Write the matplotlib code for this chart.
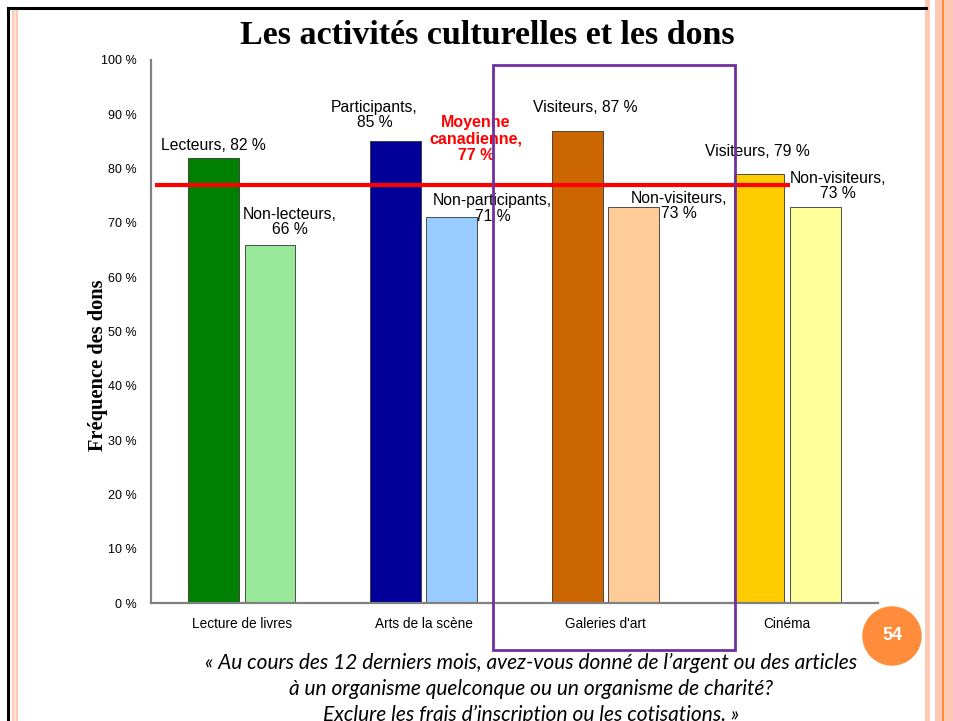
import matplotlib
matplotlib.use("Agg")
import matplotlib.pyplot as plt
from matplotlib.patches import Rectangle, Ellipse
from matplotlib.lines import Line2D
from matplotlib.ticker import FuncFormatter
import numpy as np

# data
categories = ["Lecture de livres", "Arts de la scène", "Galeries d'art", "Cinéma"]
participants = [82, 85, 87, 79]
non_participants = [66, 71, 73, 73]
part_labels = ["Lecteurs, 82 %", "Participants,\n85 %", "Visiteurs, 87 %", "Visiteurs, 79 %"]
nonpart_labels = ["Non-lecteurs,\n66 %", "Non-participants,\n71 %",
                  "Non-visiteurs,\n73 %", "Non-visiteurs,\n73 %"]
moyenne = 77
part_colors = ["#008000", "#000099", "#CC6600", "#FFCC00"]
nonpart_colors = ["#99E899", "#99CCFF", "#FFCC99", "#FFFF99"]

# label placement (data units)
part_lab_pos = [(-0.155, 84.3), (0.73, 89.9), (1.89, 91.3), (2.835, 83.2)]
nonpart_lab_pos = [(0.265, 70.2), (1.38, 72.6), (2.405, 73.1), (3.28, 76.8)]

W, H = 954, 721
fig = plt.figure(figsize=(W / 100, H / 100), dpi=100)


def fx(px):
    return px / W


def fy(py):
    return 1 - py / H


# ---- slide decorations ----
fig.add_artist(Line2D([fx(8), fx(8)], [fy(8), 0], color="black", lw=2.2))
fig.add_artist(Line2D([fx(8), fx(926)], [fy(8), fy(8)], color="black", lw=2.2))
fig.add_artist(Rectangle((fx(12), 0), fx(6), fy(10), color="#FDC9B4", lw=0))
fig.add_artist(Rectangle((fx(14), 0), fx(2), fy(10), color="#FDE3D8", lw=0))
fig.add_artist(Rectangle((fx(925), 0), fx(5), 1, color="#FDC9B4", lw=0))
fig.add_artist(Rectangle((fx(935), 0), fx(19), 1, color="#FDC9B4", lw=0))
fig.add_artist(Rectangle((fx(942), 0), fx(2), 1, color="#FF8C3A", lw=0))

fig.text(fx(487), fy(36), "Les activités culturelles et les dons",
         family="Liberation Serif", weight="bold", fontsize=24.5,
         ha="center", va="center")

# ---- chart ----
ax = fig.add_axes([fx(151), fy(603), fx(878 - 151), (603 - 60) / H])
x = np.arange(len(categories))
bw = 0.28
off = 0.155
ax.bar(x - off, participants, bw, color=part_colors, edgecolor="#333333", linewidth=0.6, zorder=2)
ax.bar(x + off, non_participants, bw, color=nonpart_colors, edgecolor="#333333", linewidth=0.6, zorder=2)

ax.set_xlim(-0.5, len(categories) - 0.5)
ax.set_ylim(0, 100)
ax.set_yticks(np.arange(0, 101, 10))
ax.yaxis.set_major_formatter(FuncFormatter(lambda v, p: f"{v:.0f} %"))
ax.set_xticks(x)
ax.set_xticklabels(categories)
ax.tick_params(length=0, labelsize=9, labelfontfamily="Liberation Sans")
ax.tick_params(axis="x", pad=10, labelsize=9.8)
ax.tick_params(axis="y", pad=10)
for s in ["top", "right"]:
    ax.spines[s].set_visible(False)
for s in ["left", "bottom"]:
    ax.spines[s].set_color("#808080")
    ax.spines[s].set_linewidth(1.6)
ax.set_ylabel("Fréquence des dons", family="Liberation Serif", weight="bold",
              fontsize=14.7)
ax.yaxis.set_label_coords(-0.059, 0.437)

ax.hlines(moyenne, -0.478, 3.016, color="#FF0000", lw=3, zorder=4)
ax.text(1.288, 85.4, f"Moyenne\ncanadienne,\n{moyenne} %", color="#FF0000",
        weight="bold", family="Liberation Sans", fontsize=11.5,
        ha="center", va="center", linespacing=1.12, zorder=5)

for (tx, ty), lab in zip(part_lab_pos, part_labels):
    ax.text(tx, ty, lab, ha="center", va="center", family="Liberation Sans",
            fontsize=11.3, linespacing=1.05, zorder=5)
for (tx, ty), lab in zip(nonpart_lab_pos, nonpart_labels):
    ax.text(tx, ty, lab, ha="center", va="center", family="Liberation Sans",
            fontsize=11.3, linespacing=1.05, zorder=5)

# purple highlight box
fig.add_artist(Rectangle((fx(493), fy(650)), fx(735 - 493), (650 - 65) / H,
                         fill=False, edgecolor="#7030A0", lw=2, zorder=10))

# page number
fig.add_artist(Ellipse((fx(892), fy(636)), 58 / W, 58 / H, color="#FF8C3A",
                       transform=fig.transFigure))
fig.text(fx(892), fy(636), "54", color="white", weight="bold", fontsize=13,
         family="Liberation Sans", ha="center", va="center")

caption = ("« Au cours des 12 derniers mois, avez-vous donné de l’argent ou des articles\n"
           "à un organisme quelconque ou un organisme de charité?\n"
           "Exclure les frais d’inscription ou les cotisations. »")
fig.text(fx(531), fy(689), caption, style="italic", family="Lato", fontsize=15,
         ha="center", va="center", linespacing=1.38)

fig.savefig("out.png", dpi=100)
